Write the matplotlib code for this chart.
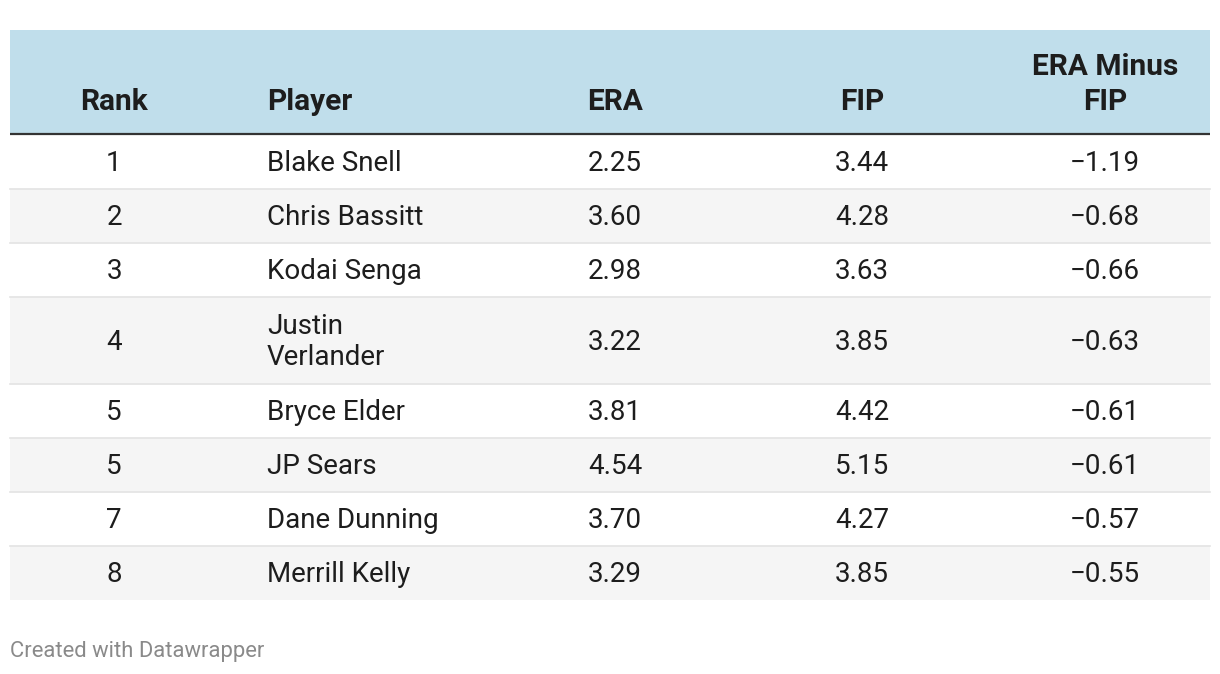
import textwrap
import matplotlib
matplotlib.use("Agg")
from matplotlib import pyplot as plt
from matplotlib.patches import Rectangle

plt.rcParams['font.family'] = ['Roboto', 'DejaVu Sans']

# table data
ranks = [1, 2, 3, 4, 5, 5, 7, 8]
players = ["Blake Snell", "Chris Bassitt", "Kodai Senga", "Justin Verlander",
           "Bryce Elder", "JP Sears", "Dane Dunning", "Merrill Kelly"]
era = [2.25, 3.60, 2.98, 3.22, 3.81, 4.54, 3.70, 3.29]
fip = [3.44, 4.28, 3.63, 3.85, 4.42, 5.15, 4.27, 3.85]
era_minus_fip = [-1.19, -0.68, -0.66, -0.63, -0.61, -0.61, -0.57, -0.55]
headers = ["Rank", "Player", "ERA", "FIP", "ERA Minus\nFIP"]

W, H = 1220, 674
fig = plt.figure(figsize=(W / 100, H / 100), dpi=100)
ax = fig.add_axes([0, 0, 1, 1])
ax.set_xlim(0, W)
ax.set_ylim(H, 0)
ax.axis('off')

left, right = 10, 1210
head_top, head_bot = 30, 134
col_x = [114, 267, 615, 862, 1105]
col_ha = ['center', 'left', 'center', 'center', 'center']
txt = '#1d1d1d'

# header
ax.add_patch(Rectangle((left, head_top), right - left, head_bot - head_top,
                       facecolor='#c0deeb', edgecolor='none'))
ax.plot([left, right], [head_bot, head_bot], color='#333333', lw=1.6,
        solid_capstyle='butt')
for x, ha, h in zip(col_x, col_ha, headers):
    ax.text(x, 110, h, ha=ha, va='baseline', fontsize=21.5, fontweight='bold',
            color=txt, linespacing=1.32)

def fmt(v):
    return f"{v:.2f}".replace("-", "\u2212")

# rows
y = head_bot + 1
for i in range(len(ranks)):
    name = textwrap.fill(players[i], 14)
    rh = 54 if "\n" not in name else 87
    if i % 2 == 1:
        ax.add_patch(Rectangle((left, y), right - left, rh,
                               facecolor='#f5f5f5', edgecolor='none'))
    if i > 0:
        ax.plot([left, right], [y, y], color='#e3e3e3', lw=1.2)
    cy = y + rh / 2 + 1.5
    vals = [str(ranks[i]), name, fmt(era[i]), fmt(fip[i]), fmt(era_minus_fip[i])]
    for x, ha, v in zip(col_x, col_ha, vals):
        ax.text(x, cy, v, ha=ha, va='center', fontsize=20, color=txt,
                linespacing=1.17)
    y += rh

ax.text(left, 651, "Created with Datawrapper", ha='left', va='center',
        fontsize=15.8, color='#8a8a8a')

fig.savefig("out.png", dpi=100)
